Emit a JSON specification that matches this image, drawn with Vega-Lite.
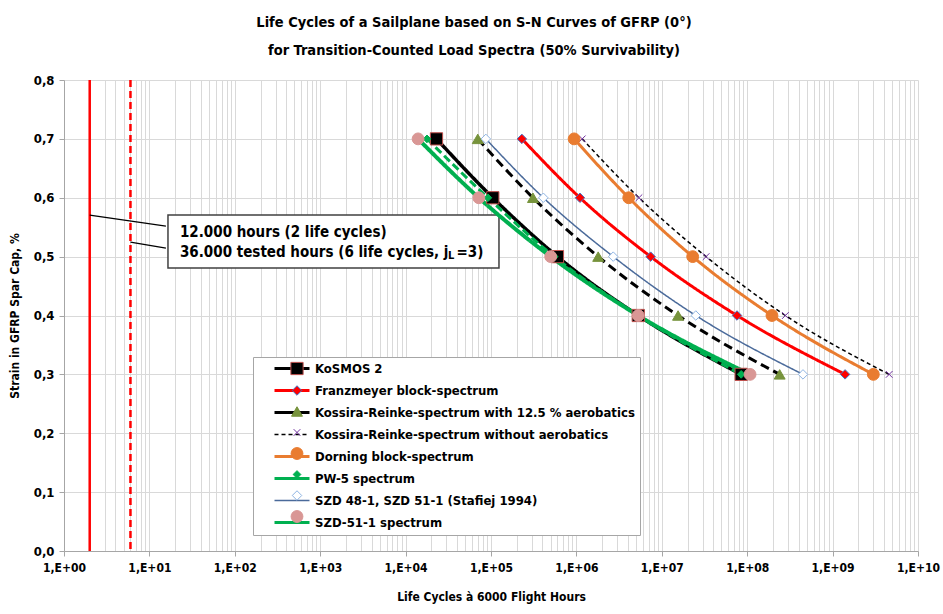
{
  "$schema": "https://vega.github.io/schema/vega-lite/v6.json",
  "width": 854,
  "height": 471,
  "autosize": "none",
  "padding": {"left": 64, "top": 80, "right": 25, "bottom": 63},
  "config": {
    "view": {"stroke": null},
    "font": "DejaVu Sans Condensed, sans-serif"
  },
  "title": {
    "text": ["Life Cycles of a Sailplane based on S-N Curves of GFRP (0°)", "for Transition-Counted Load Spectra  (50% Survivability)"],
    "font": "DejaVu Sans Condensed, sans-serif",
    "fontSize": 14.5,
    "fontWeight": "bold",
    "lineHeight": 28,
    "offset": 16,
    "dx": -17,
    "anchor": "middle",
    "color": "#000000"
  },
  "datasets": {
    "curves": [
      {"series": "KoSMOS 2", "strain": 0.7, "cycles": 23000},
      {"series": "KoSMOS 2", "strain": 0.6, "cycles": 105000},
      {"series": "KoSMOS 2", "strain": 0.5, "cycles": 600000},
      {"series": "KoSMOS 2", "strain": 0.4, "cycles": 5300000},
      {"series": "KoSMOS 2", "strain": 0.3, "cycles": 85000000},
      {"series": "Franzmeyer block-spectrum", "strain": 0.7, "cycles": 230000},
      {"series": "Franzmeyer block-spectrum", "strain": 0.6, "cycles": 1100000},
      {"series": "Franzmeyer block-spectrum", "strain": 0.5, "cycles": 7400000},
      {"series": "Franzmeyer block-spectrum", "strain": 0.4, "cycles": 76000000},
      {"series": "Franzmeyer block-spectrum", "strain": 0.3, "cycles": 1400000000},
      {"series": "Kossira-Reinke-spectrum with 12.5 % aerobatics", "strain": 0.7, "cycles": 70000},
      {"series": "Kossira-Reinke-spectrum with 12.5 % aerobatics", "strain": 0.6, "cycles": 310000},
      {"series": "Kossira-Reinke-spectrum with 12.5 % aerobatics", "strain": 0.5, "cycles": 1800000},
      {"series": "Kossira-Reinke-spectrum with 12.5 % aerobatics", "strain": 0.4, "cycles": 15500000},
      {"series": "Kossira-Reinke-spectrum with 12.5 % aerobatics", "strain": 0.3, "cycles": 240000000},
      {"series": "Kossira-Reinke-spectrum without aerobatics", "strain": 0.7, "cycles": 1170000},
      {"series": "Kossira-Reinke-spectrum without aerobatics", "strain": 0.6, "cycles": 5400000},
      {"series": "Kossira-Reinke-spectrum without aerobatics", "strain": 0.5, "cycles": 33000000},
      {"series": "Kossira-Reinke-spectrum without aerobatics", "strain": 0.4, "cycles": 280000000},
      {"series": "Kossira-Reinke-spectrum without aerobatics", "strain": 0.3, "cycles": 4600000000},
      {"series": "Dorning block-spectrum", "strain": 0.7, "cycles": 940000},
      {"series": "Dorning block-spectrum", "strain": 0.6, "cycles": 4100000},
      {"series": "Dorning block-spectrum", "strain": 0.5, "cycles": 23000000},
      {"series": "Dorning block-spectrum", "strain": 0.4, "cycles": 195000000},
      {"series": "Dorning block-spectrum", "strain": 0.3, "cycles": 3000000000},
      {"series": "PW-5 spectrum", "strain": 0.7, "cycles": 17800},
      {"series": "PW-5 spectrum", "strain": 0.6, "cycles": 92000},
      {"series": "PW-5 spectrum", "strain": 0.5, "cycles": 550000},
      {"series": "PW-5 spectrum", "strain": 0.4, "cycles": 5300000},
      {"series": "PW-5 spectrum", "strain": 0.3, "cycles": 85000000},
      {"series": "SZD 48-1, SZD 51-1 (Stafiej 1994)", "strain": 0.7, "cycles": 87000},
      {"series": "SZD 48-1, SZD 51-1 (Stafiej 1994)", "strain": 0.6, "cycles": 410000},
      {"series": "SZD 48-1, SZD 51-1 (Stafiej 1994)", "strain": 0.5, "cycles": 2700000},
      {"series": "SZD 48-1, SZD 51-1 (Stafiej 1994)", "strain": 0.4, "cycles": 25000000},
      {"series": "SZD 48-1, SZD 51-1 (Stafiej 1994)", "strain": 0.3, "cycles": 450000000},
      {"series": "SZD-51-1 spectrum", "strain": 0.7, "cycles": 14000},
      {"series": "SZD-51-1 spectrum", "strain": 0.6, "cycles": 72000},
      {"series": "SZD-51-1 spectrum", "strain": 0.5, "cycles": 500000},
      {"series": "SZD-51-1 spectrum", "strain": 0.4, "cycles": 5300000},
      {"series": "SZD-51-1 spectrum", "strain": 0.3, "cycles": 108000000}
    ]
  },
  "layer": [
    {
      "data": {"values": [{}]},
      "mark": {"type": "rect", "fill": "#ffffff", "stroke": "#404040", "strokeWidth": 1.5},
      "encoding": {
        "x": {"datum": 16.5, "type": "quantitative", "scale": {"type": "log", "domain": [1, 10000000000]}},
        "x2": {"datum": 124000},
        "y": {"datum": 0.5705, "type": "quantitative", "scale": {"domain": [0, 0.8]}},
        "y2": {"datum": 0.4805}
      }
    },
    {
      "data": {"name": "curves"},
      "mark": {"type": "line", "interpolate": "monotone"},
      "encoding": {
        "x": {
          "field": "cycles", "type": "quantitative",
          "scale": {"type": "log", "domain": [1, 10000000000]},
          "title": "Life Cycles à 6000 Flight Hours",
          "axis": {
            "grid": true,
            "values": [1,2,3,4,5,6,7,8,9,10,20,30,40,50,60,70,80,90,100,200,300,400,500,600,700,800,900,1000,2000,3000,4000,5000,6000,7000,8000,9000,10000,20000,30000,40000,50000,60000,70000,80000,90000,100000,200000,300000,400000,500000,600000,700000,800000,900000,1000000,2000000,3000000,4000000,5000000,6000000,7000000,8000000,9000000,10000000,20000000,30000000,40000000,50000000,60000000,70000000,80000000,90000000,100000000,200000000,300000000,400000000,500000000,600000000,700000000,800000000,900000000,1000000000,2000000000,3000000000,4000000000,5000000000,6000000000,7000000000,8000000000,9000000000,10000000000],
            "labelExpr": "abs(log(datum.value)/LN10 - round(log(datum.value)/LN10)) < 0.001 ? '1,E+' + (round(log(datum.value)/LN10) < 10 ? '0' : '') + round(log(datum.value)/LN10) : ''",
            "tickOpacity": {"condition": {"test": "abs(log(datum.value)/LN10 - round(log(datum.value)/LN10)) > 0.001", "value": 0}, "value": 1},
            "labelFontSize": 12, "labelFontWeight": "bold", "labelColor": "#000000",
            "labelPadding": 6, "tickSize": 5, "tickColor": "#a6a6a6",
            "gridColor": "#d9d9d9", "gridWidth": 1, "domainColor": "#a6a6a6",
            "titleFontSize": 12, "titleFontWeight": "bold", "titleColor": "#000000", "titlePadding": 18,
            "labelOverlap": false, "labelFlush": false
          }
        },
        "y": {
          "field": "strain", "type": "quantitative",
          "scale": {"domain": [0, 0.8]},
          "title": "Strain in GFRP Spar Cap, %",
          "axis": {
            "grid": true,
            "values": [0, 0.1, 0.2, 0.3, 0.4, 0.5, 0.6, 0.7, 0.8],
            "labelExpr": "replace(format(datum.value, '.1f'), '.', ',')",
            "labelFontSize": 13, "labelFontWeight": "bold", "labelColor": "#000000",
            "labelPadding": 5, "tickSize": 5, "tickColor": "#a6a6a6",
            "gridColor": "#d9d9d9", "gridWidth": 1, "domainColor": "#a6a6a6",
            "titleFontSize": 12, "titleFontWeight": "bold", "titleColor": "#000000", "titlePadding": 12
          }
        },
        "color": {
          "field": "series", "type": "nominal",
          "sort": ["KoSMOS 2", "Franzmeyer block-spectrum", "Kossira-Reinke-spectrum with 12.5 % aerobatics", "Kossira-Reinke-spectrum without aerobatics", "Dorning block-spectrum", "PW-5 spectrum", "SZD 48-1, SZD 51-1 (Stafiej 1994)", "SZD-51-1 spectrum"],
          "scale": {"range": ["#000000", "#ff0000", "#000000", "#000000", "#e97c30", "#00b050", "#4a6a9a", "#00b050"]},
          "legend": {
            "orient": "none", "legendX": 189, "legendY": 277, "title": null, "zindex": 0,
            "symbolType": "M0,0H7", "symbolSize": 100,
            "labelFontSize": 13, "labelFontWeight": "bold", "labelColor": "#000000", "labelOffset": 34,
            "padding": 5, "rowPadding": 8, "symbolOffset": 10,
            "fillColor": "#ffffff", "strokeColor": "#a6a6a6", "labelLimit": 500,
            "encode": {
              "symbols": {
                "update": {
                  "strokeDash": {"signal": "datum.value === 'Kossira-Reinke-spectrum without aerobatics' ? [4, 3] : [1, 0]"},
                  "strokeWidth": {"signal": "datum.value === 'Kossira-Reinke-spectrum without aerobatics' || datum.value === 'SZD 48-1, SZD 51-1 (Stafiej 1994)' ? 1.5 : 3"}
                }
              }
            }
          }
        },
        "strokeDash": {
          "field": "series", "type": "nominal", "legend": null,
          "sort": ["KoSMOS 2", "Franzmeyer block-spectrum", "Kossira-Reinke-spectrum with 12.5 % aerobatics", "Kossira-Reinke-spectrum without aerobatics", "Dorning block-spectrum", "PW-5 spectrum", "SZD 48-1, SZD 51-1 (Stafiej 1994)", "SZD-51-1 spectrum"],
          "scale": {"range": [[1, 0], [1, 0], [9, 5], [4, 3], [1, 0], [8, 4], [1, 0], [1, 0]]}
        },
        "strokeWidth": {
          "field": "series", "type": "nominal", "legend": null,
          "sort": ["KoSMOS 2", "Franzmeyer block-spectrum", "Kossira-Reinke-spectrum with 12.5 % aerobatics", "Kossira-Reinke-spectrum without aerobatics", "Dorning block-spectrum", "PW-5 spectrum", "SZD 48-1, SZD 51-1 (Stafiej 1994)", "SZD-51-1 spectrum"],
          "scale": {"type": "ordinal", "range": [3.5, 3, 3, 1.5, 3, 3, 1.5, 4]}
        }
      }
    },
    {
      "data": {"name": "curves"},
      "mark": {"type": "point", "filled": true, "strokeWidth": 1, "opacity": 1},
      "encoding": {
        "x": {"field": "cycles", "type": "quantitative", "scale": {"type": "log", "domain": [1, 10000000000]}},
        "y": {"field": "strain", "type": "quantitative", "scale": {"domain": [0, 0.8]}},
        "fill": {
          "field": "series", "type": "nominal",
          "scale": {
            "domain": ["KoSMOS 2", "Franzmeyer block-spectrum", "Kossira-Reinke-spectrum with 12.5 % aerobatics", "Kossira-Reinke-spectrum without aerobatics", "Dorning block-spectrum", "PW-5 spectrum", "SZD 48-1, SZD 51-1 (Stafiej 1994)", "SZD-51-1 spectrum"],
            "range": ["#000000", "#ff0000", "#77933c", "#7030a0", "#e97c30", "#00b050", "#ffffff", "#d99795"]
          },
          "legend": {
            "orient": "none", "legendX": 220, "legendY": 275.5, "title": null, "zindex": 5,
            "labelFontSize": 16, "labelFontWeight": "bold", "labelOpacity": 0,
            "padding": 5, "rowPadding": 5, "symbolStrokeWidth": 1,
            "fillColor": null, "strokeColor": null, "labelLimit": 500
          }
        },
        "stroke": {
          "field": "series", "type": "nominal",
          "scale": {
            "domain": ["KoSMOS 2", "Franzmeyer block-spectrum", "Kossira-Reinke-spectrum with 12.5 % aerobatics", "Kossira-Reinke-spectrum without aerobatics", "Dorning block-spectrum", "PW-5 spectrum", "SZD 48-1, SZD 51-1 (Stafiej 1994)", "SZD-51-1 spectrum"],
            "range": ["#c0504d", "#4472c4", "#77933c", "#7030a0", "#e97c30", "#00b050", "#8eb4e3", "#d99795"]
          }
        },
        "shape": {
          "field": "series", "type": "nominal",
          "scale": {
            "domain": ["KoSMOS 2", "Franzmeyer block-spectrum", "Kossira-Reinke-spectrum with 12.5 % aerobatics", "Kossira-Reinke-spectrum without aerobatics", "Dorning block-spectrum", "PW-5 spectrum", "SZD 48-1, SZD 51-1 (Stafiej 1994)", "SZD-51-1 spectrum"],
            "range": ["square", "diamond", "triangle-up", "M-1,-1L1,1M-1,1L1,-1", "circle", "diamond", "diamond", "circle"]
          }
        },
        "size": {
          "field": "series", "type": "nominal",
          "scale": {
            "type": "ordinal",
            "domain": ["KoSMOS 2", "Franzmeyer block-spectrum", "Kossira-Reinke-spectrum with 12.5 % aerobatics", "Kossira-Reinke-spectrum without aerobatics", "Dorning block-spectrum", "PW-5 spectrum", "SZD 48-1, SZD 51-1 (Stafiej 1994)", "SZD-51-1 spectrum"],
            "range": [150, 90, 120, 45, 140, 60, 90, 140]
          }
        }
      }
    },
    {
      "data": {"values": [{}]},
      "mark": {"type": "rule", "color": "#ff0000", "strokeWidth": 2.5},
      "encoding": {
        "x": {"datum": 2, "type": "quantitative", "scale": {"type": "log", "domain": [1, 10000000000]}}
      }
    },
    {
      "data": {"values": [{}]},
      "mark": {"type": "rule", "color": "#ff0000", "strokeWidth": 2.5, "strokeDash": [7, 4]},
      "encoding": {
        "x": {"datum": 6, "type": "quantitative", "scale": {"type": "log", "domain": [1, 10000000000]}}
      }
    },
    {
      "data": {"values": [{}]},
      "mark": {"type": "rule", "color": "#000000", "strokeWidth": 1.2},
      "encoding": {
        "x": {"datum": 2, "type": "quantitative", "scale": {"type": "log", "domain": [1, 10000000000]}},
        "x2": {"datum": 15.6},
        "y": {"datum": 0.5705, "type": "quantitative", "scale": {"domain": [0, 0.8]}},
        "y2": {"datum": 0.5518}
      }
    },
    {
      "data": {"values": [{}]},
      "mark": {"type": "rule", "color": "#000000", "strokeWidth": 1.2},
      "encoding": {
        "x": {"datum": 6, "type": "quantitative", "scale": {"type": "log", "domain": [1, 10000000000]}},
        "x2": {"datum": 15.6},
        "y": {"datum": 0.5246, "type": "quantitative", "scale": {"domain": [0, 0.8]}},
        "y2": {"datum": 0.5144}
      }
    },
    {
      "data": {"values": [{}]},
      "mark": {"type": "text", "align": "left", "baseline": "middle", "fontSize": 15, "fontWeight": "bold", "color": "#000000"},
      "encoding": {
        "x": {"datum": 22.8, "type": "quantitative", "scale": {"type": "log", "domain": [1, 10000000000]}},
        "y": {"datum": 0.5416, "type": "quantitative", "scale": {"domain": [0, 0.8]}},
        "text": {"value": "12.000 hours (2 life cycles)"}
      }
    },
    {
      "data": {"values": [{}]},
      "mark": {"type": "text", "align": "left", "baseline": "middle", "fontSize": 15, "fontWeight": "bold", "color": "#000000"},
      "encoding": {
        "x": {"datum": 22.8, "type": "quantitative", "scale": {"type": "log", "domain": [1, 10000000000]}},
        "y": {"datum": 0.5076, "type": "quantitative", "scale": {"domain": [0, 0.8]}},
        "text": {"value": "36.000 tested hours (6 life cycles, j"}
      }
    },
    {
      "data": {"values": [{}]},
      "mark": {"type": "text", "align": "left", "baseline": "middle", "fontSize": 11, "fontWeight": "bold", "color": "#000000", "dy": 4},
      "encoding": {
        "x": {"datum": 31300, "type": "quantitative", "scale": {"type": "log", "domain": [1, 10000000000]}},
        "y": {"datum": 0.5076, "type": "quantitative", "scale": {"domain": [0, 0.8]}},
        "text": {"value": "L"}
      }
    },
    {
      "data": {"values": [{}]},
      "mark": {"type": "text", "align": "left", "baseline": "middle", "fontSize": 15, "fontWeight": "bold", "color": "#000000"},
      "encoding": {
        "x": {"datum": 39500, "type": "quantitative", "scale": {"type": "log", "domain": [1, 10000000000]}},
        "y": {"datum": 0.5076, "type": "quantitative", "scale": {"domain": [0, 0.8]}},
        "text": {"value": "=3)"}
      }
    }
  ]
}
